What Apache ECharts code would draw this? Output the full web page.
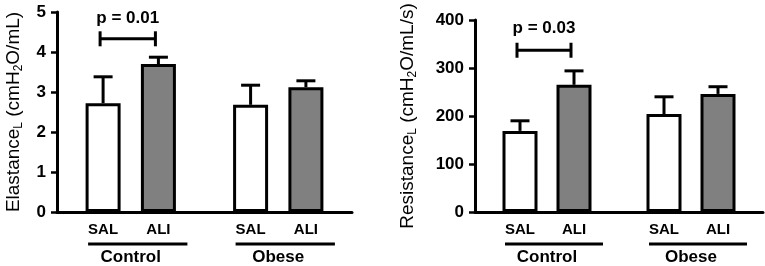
<!DOCTYPE html>
<html>
<head>
<meta charset="utf-8">
<script src="https://cdn.jsdelivr.net/npm/echarts@6/dist/echarts.min.js"></script>
<style>
  html, body { margin: 0; padding: 0; background: #fff; }
  #chart { width: 765px; height: 266px; }
</style>
</head>
<body>
<div id="chart"></div>
<script>
// data
const groups = ["Control", "Obese"];
const treatments = ["SAL", "ALI", "SAL", "ALI"];
const elastanceMean = [2.72, 3.7, 2.68, 3.12];
const elastanceTop = [3.38, 3.87, 3.17, 3.28]; // mean + SEM
const resistanceMean = [169, 265, 204, 246];
const resistanceTop = [190, 294, 240, 261];
const pValues = ["p = 0.01", "p = 0.03"];
const bracketY = [4.33, 337];
const pTextY = [4.85, 383];

// slot layout on the category axis (gap between the two groups)
const nSlots = 16;
const slots = [2, 5, 10, 13];
const groupSlots = [[2, 5], [10, 13]];

const FONT = '"Liberation Sans", Arial, sans-serif';
const fills = ["#ffffff", "#808080", "#ffffff", "#808080"];

const axisCats = Array.from({ length: nSlots }, (_, i) => {
  const k = slots.indexOf(i);
  return k >= 0 ? treatments[k] : "";
});

function barData(values) {
  const arr = Array(nSlots).fill("-");
  slots.forEach((s, k) => {
    arr[s] = { value: values[k], itemStyle: { color: fills[k] } };
  });
  return arr;
}

function errData(mean, top) {
  return slots.map((s, k) => [s, mean[k], top[k]]);
}

function xAxisFor(gridIndex) {
  return {
    type: "category",
    gridIndex,
    data: axisCats,
    axisLine: { lineStyle: { color: "#000", width: 3 } },
    axisTick: { show: false },
    axisLabel: {
      interval: 0,
      margin: 10,
      color: "#000",
      fontFamily: FONT,
      fontWeight: "bold",
      fontSize: 15,
    },
    splitLine: { show: false },
  };
}

function yAxisFor(gridIndex, max, interval, name, gap) {
  return {
    type: "value",
    gridIndex,
    min: 0,
    max,
    interval,
    name,
    nameLocation: "middle",
    nameGap: gap,
    nameTextStyle: {
      rich: {
        n: { fontSize: 19, fontFamily: FONT, color: "#000", lineHeight: 22 },
        s: { fontSize: 12, fontFamily: FONT, color: "#000", verticalAlign: "bottom", lineHeight: 22, padding: [8, 0, 0, 0] },
      },
    },
    axisLine: { show: true, lineStyle: { color: "#000", width: 3 } },
    axisTick: { show: true, length: 6, lineStyle: { color: "#000", width: 2.5 } },
    axisLabel: {
      margin: 11,
      color: "#000",
      fontFamily: FONT,
      fontWeight: "bold",
      fontSize: 17,
    },
    splitLine: { show: false },
  };
}

function barSeries(idx, values) {
  return {
    type: "bar",
    xAxisIndex: idx,
    yAxisIndex: idx,
    data: barData(values),
    barWidth: 35,
    itemStyle: { borderColor: "#000", borderWidth: 3 },
    z: 2,
  };
}

function errSeries(idx, mean, top) {
  return {
    type: "custom",
    xAxisIndex: idx,
    yAxisIndex: idx,
    data: errData(mean, top),
    encode: { x: 0, y: [1, 2] },
    z: 1,
    renderItem: (params, api) => {
      const b = api.coord([api.value(0), api.value(1)]);
      const t = api.coord([api.value(0), api.value(2)]);
      const st = { stroke: "#000", lineWidth: 3 };
      return {
        type: "group",
        children: [
          { type: "line", shape: { x1: b[0], y1: b[1], x2: t[0], y2: t[1] }, style: st },
          { type: "line", shape: { x1: t[0] - 9.5, y1: t[1], x2: t[0] + 9.5, y2: t[1] }, style: st },
        ],
      };
    },
  };
}

function bracketSeries(idx) {
  return {
    type: "custom",
    xAxisIndex: idx,
    yAxisIndex: idx,
    data: [[slots[0], slots[1], bracketY[idx], pTextY[idx]]],
    encode: { x: [0, 1], y: [2, 3] },
    renderItem: (params, api) => {
      const a = api.coord([api.value(0), api.value(2)]);
      const b = api.coord([api.value(1), api.value(2)]);
      const t = api.coord([api.value(0), api.value(3)]);
      const st = { stroke: "#000", lineWidth: 3 };
      const x1 = a[0] - 3, x2 = b[0] - 3;
      return {
        type: "group",
        children: [
          { type: "line", shape: { x1, y1: a[1], x2, y2: a[1] }, style: st },
          { type: "line", shape: { x1, y1: a[1] - 7.5, x2: x1, y2: a[1] + 7.5 }, style: st },
          { type: "line", shape: { x1: x2, y1: a[1] - 7.5, x2, y2: a[1] + 7.5 }, style: st },
          {
            type: "text",
            style: {
              text: pValues[idx],
              x: (x1 + x2) / 2,
              y: t[1],
              align: "center",
              verticalAlign: "middle",
              font: "bold 17px " + FONT,
              fill: "#000",
            },
          },
        ],
      };
    },
  };
}

function groupSeries(idx) {
  return {
    type: "custom",
    xAxisIndex: idx,
    yAxisIndex: idx,
    data: groupSlots.map((g) => [g[0], g[1], 0]),
    encode: { x: [0, 1], y: 2 },
    clip: false,
    renderItem: (params, api) => {
      const a = api.coord([api.value(0), 0]);
      const b = api.coord([api.value(1), 0]);
      const y = a[1] + 32;
      return {
        type: "group",
        children: [
          { type: "line", shape: { x1: a[0] - 15, y1: y, x2: b[0] + 29, y2: y }, style: { stroke: "#000", lineWidth: 3 } },
          {
            type: "text",
            style: {
              text: groups[params.dataIndex],
              x: (a[0] + b[0]) / 2,
              y: y + 13,
              align: "center",
              verticalAlign: "middle",
              font: "bold 17px " + FONT,
              fill: "#000",
            },
          },
        ],
      };
    },
  };
}

const chart = echarts.init(document.getElementById("chart"), null, { renderer: "canvas" });

chart.setOption({
  animation: false,
  backgroundColor: "#fff",
  grid: [
    { left: 57, top: 12, width: 295, height: 200 },
    { left: 475, top: 20, width: 288, height: 192 },
  ],
  xAxis: [xAxisFor(0), xAxisFor(1)],
  yAxis: [
    yAxisFor(0, 5, 1, "{n|Elastance}{s|L}{n| (cmH}{s|2}{n|O/mL)}", 32),
    yAxisFor(1, 400, 100, "{n|Resistance}{s|L}{n| (cmH}{s|2}{n|O/mL/s)}", 56),
  ],
  series: [
    barSeries(0, elastanceMean),
    errSeries(0, elastanceMean, elastanceTop),
    bracketSeries(0),
    groupSeries(0),
    barSeries(1, resistanceMean),
    errSeries(1, resistanceMean, resistanceTop),
    bracketSeries(1),
    groupSeries(1),
  ],
});
</script>
</body>
</html>
